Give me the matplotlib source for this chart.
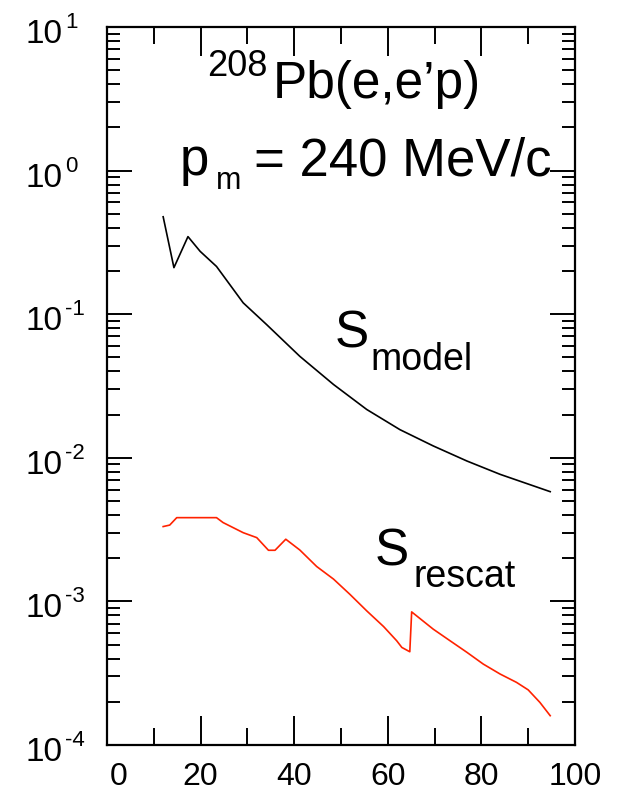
import matplotlib
matplotlib.use("Agg")
import matplotlib.pyplot as plt
from matplotlib.ticker import LogLocator, FixedLocator, NullFormatter

plt.rcParams['font.family'] = ['Liberation Sans', 'DejaVu Sans']

# ---- data ----
model_x = [12.0, 14.3, 17.3, 19.9, 23.4, 29.1, 34.1, 41.2, 48.4, 55.5,
           62.6, 69.7, 76.9, 84.0, 94.7]
model_y = [0.477, 0.211, 0.347, 0.274, 0.215, 0.120, 0.0847, 0.0509, 0.0324,
           0.0217, 0.0157, 0.0121, 0.0095, 0.00767, 0.00581]

rescat_x = [12.0, 13.4, 14.9, 23.4, 24.8, 29.1, 32.0, 34.5, 35.9, 38.2,
            41.2, 44.8, 48.4, 51.9, 55.5, 59.1, 61.9, 63.0, 64.7, 65.1,
            69.7, 73.3, 76.9, 80.4, 84.0, 87.5, 90.0, 92.5, 94.7]
rescat_y = [0.00332, 0.00340, 0.00383, 0.00383, 0.00354, 0.00301, 0.00278,
            0.00227, 0.00227, 0.00271, 0.00228, 0.00175, 0.00143, 0.00112,
            0.000859, 0.000668, 0.000532, 0.000478, 0.000446, 0.000845,
            0.000641, 0.000532, 0.000442, 0.000366, 0.000312, 0.000273,
            0.000242, 0.000198, 0.000160]

x_ticks = [0, 20, 40, 60, 80, 100]
x_tick_labels = ['0', '20', '40', '60', '80', '100']
y_ticks = [1e-4, 1e-3, 1e-2, 1e-1, 1e0, 1e1]
y_exponents = ['-4', '-3', '-2', '-1', '0', '1']

W, H = 620, 795
fig = plt.figure(figsize=(W / 100, H / 100), dpi=100)
L, R, T, B = 107, 575, 27, 745
ax = fig.add_axes([L / W, 1 - B / H, (R - L) / W, (B - T) / H])

ax.plot(model_x, model_y, color='black', lw=1.2)
ax.plot(rescat_x, rescat_y, color='#ff2200', lw=1.2)

ax.set_yscale('log')
ax.set_xlim(0, 100)
ax.set_ylim(1e-4, 1e1)

ax.set_xticks(x_ticks)
ax.set_xticklabels([''] + x_tick_labels[1:])
ax.xaxis.set_minor_locator(FixedLocator([10, 30, 50, 70, 90]))
ax.set_yticks(y_ticks)
ax.set_yticklabels([''] * len(y_ticks))
ax.yaxis.set_minor_locator(LogLocator(base=10, subs=range(2, 10)))
ax.yaxis.set_minor_formatter(NullFormatter())

for s in ax.spines.values():
    s.set_linewidth(1.6)

ax.tick_params(axis='both', which='both', direction='in', top=True, right=True,
               width=1.4, labelsize=23)
ax.tick_params(axis='x', which='major', length=21, pad=12)
ax.tick_params(axis='x', which='minor', length=12)
ax.tick_params(axis='y', which='major', length=18)
ax.tick_params(axis='y', which='minor', length=9.5)

# first x tick label, drawn a little to the right as in the reference
ax.annotate(x_tick_labels[0], xy=(x_ticks[0], 0), xycoords=('data', 'axes fraction'),
            xytext=(12, -17), textcoords='offset pixels', ha='center', va='top',
            fontsize=23, annotation_clip=False)

# y tick labels: "10" with a hyphen-minus exponent
for v, e in zip(y_ticks, y_exponents):
    ax.annotate('10', xy=(0, v), xycoords=('axes fraction', 'data'),
                xytext=(63 - L, -16), textcoords='offset pixels',
                ha='right', va='baseline', fontsize=24, annotation_clip=False)
    ax.annotate(e, xy=(0, v), xycoords=('axes fraction', 'data'),
                xytext=(65 - L, -1), textcoords='offset pixels',
                ha='left', va='baseline', fontsize=16, annotation_clip=False)

def ftext(px, py, s, size):
    fig.text(px / W, 1 - py / H, s, fontsize=size, ha='left', va='baseline')

ftext(207, 76, '208', 26)
ftext(273, 98, 'Pb(e,e\u2019p)', 37)
ftext(180, 175, 'p', 38)
ftext(216, 189, 'm', 22)
ftext(254, 175, '= 240 MeV/c', 38)
ftext(335, 347, 'S', 37)
ftext(370, 370, 'model', 27)
ftext(375, 565, 'S', 37)
ftext(413, 587, 'rescat', 27)

fig.savefig('out.png', dpi=100)
